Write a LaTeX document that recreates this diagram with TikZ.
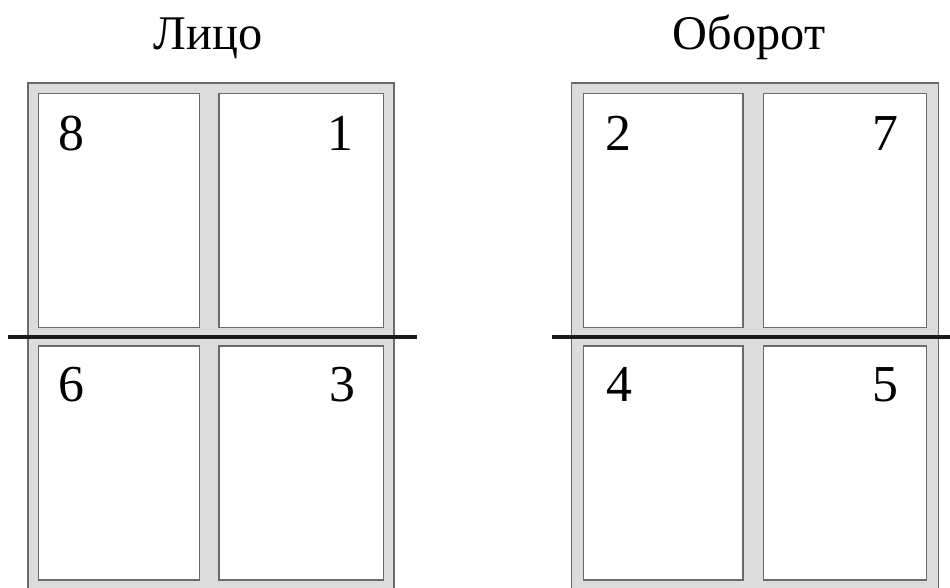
\documentclass[tikz,border=0pt]{standalone}
\usepackage{fontspec}
\setmainfont{Liberation Serif}
\usepackage{xcolor}
\definecolor{sheetGray}{HTML}{DCDCDC}
\definecolor{edgeGray}{HTML}{6A6A6A}
\definecolor{foldBlack}{HTML}{1A1A1A}
\tikzset{
  sheet/.style={fill=sheetGray, draw=edgeGray, line width=0.6pt},
  page/.style={fill=white, draw=edgeGray, line width=0.6pt},
  foldline/.style={draw=foldBlack, line width=2pt},
  pagenum/.style={inner sep=0pt, font=\fontsize{29.5}{32}\selectfont},
  sidetitle/.style={inner sep=0pt, anchor=base, font=\fontsize{27.5}{30}\selectfont}
}

\begin{document}
\begin{tikzpicture}
  \useasboundingbox (0cm,0cm) rectangle (19cm,11.74cm);
  % Лицо
  \node[sidetitle] (faceTitle) at (4.16cm,10.74cm) {Лицо};
  \filldraw[sheet] (0.56cm,-0.3cm) rectangle (7.88cm,10.08cm);
  \filldraw[page] (0.77cm,5.19cm) rectangle (3.99cm,9.87cm);
  \filldraw[page] (4.38cm,5.19cm) rectangle (7.67cm,9.87cm);
  \filldraw[page] (0.77cm,0.14cm) rectangle (3.99cm,4.82cm);
  \filldraw[page] (4.38cm,0.14cm) rectangle (7.67cm,4.82cm);
  \draw[foldline] (0.16cm,5.0cm) -- (8.34cm,5.0cm);
  \node[pagenum, anchor=base west] (face8) at (1.17cm,8.74cm) {8};
  \node[pagenum, anchor=base east] (face1) at (7.08cm,8.74cm) {1};
  \node[pagenum, anchor=base west] (face6) at (1.17cm,3.71cm) {6};
  \node[pagenum, anchor=base east] (face3) at (7.12cm,3.71cm) {3};
  % Оборот
  \node[sidetitle] (backTitle) at (14.98cm,10.74cm) {Оборот};
  \filldraw[sheet] (11.43cm,-0.3cm) rectangle (18.77cm,10.08cm);
  \filldraw[page] (11.67cm,5.19cm) rectangle (14.86cm,9.87cm);
  \filldraw[page] (15.27cm,5.19cm) rectangle (18.53cm,9.87cm);
  \filldraw[page] (11.67cm,0.14cm) rectangle (14.86cm,4.82cm);
  \filldraw[page] (15.27cm,0.14cm) rectangle (18.53cm,4.82cm);
  \draw[foldline] (11.04cm,5.0cm) -- (19.2cm,5.0cm);
  \node[pagenum, anchor=base west] (back2) at (12.1cm,8.74cm) {2};
  \node[pagenum, anchor=base east] (back7) at (17.98cm,8.74cm) {7};
  \node[pagenum, anchor=base west] (back4) at (12.12cm,3.71cm) {4};
  \node[pagenum, anchor=base east] (back5) at (17.98cm,3.71cm) {5};
\end{tikzpicture}
\end{document}
